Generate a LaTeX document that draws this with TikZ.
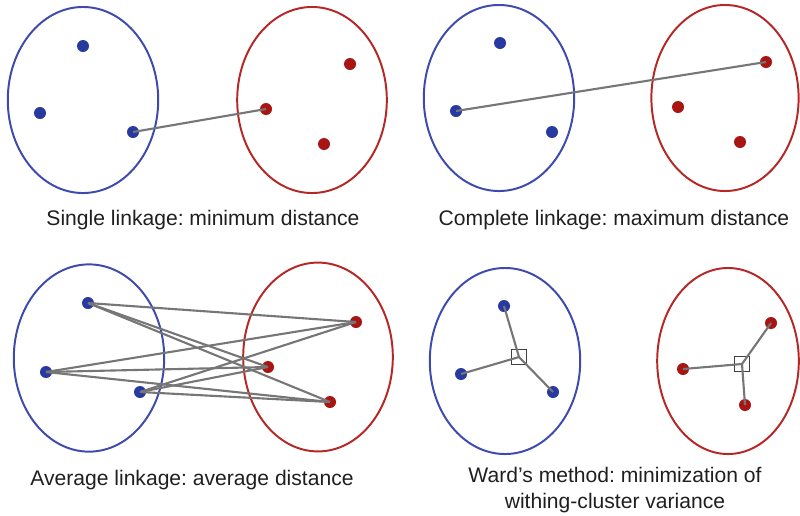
\documentclass[tikz,border=0pt]{standalone}
\usepackage{fontspec}
\setmainfont{Liberation Sans}
\usetikzlibrary{shapes.geometric}
\definecolor{clblue}{RGB}{62,74,172}
\definecolor{clred}{RGB}{180,40,38}
\definecolor{dotblue}{RGB}{40,58,160}
\definecolor{dotred}{RGB}{168,22,20}
\definecolor{linkgray}{RGB}{118,118,118}
\frenchspacing
\begin{document}
\begin{tikzpicture}[x=0.025cm, y=-0.025cm,
bluecl/.style={draw=clblue, ellipse, line width=1.4pt, inner sep=0pt, minimum width=3.76cm, minimum height=4.65cm},
redcl/.style={draw=clred, ellipse, line width=1.4pt, inner sep=0pt, minimum width=3.74cm, minimum height=4.65cm},
bdot/.style={circle, fill=dotblue, inner sep=0pt, minimum size=0.3cm},
rdot/.style={circle, fill=dotred, inner sep=0pt, minimum size=0.3cm},
link/.style={draw=linkgray, line width=1.5pt},
cent/.style={draw=black!75, fill=none, rectangle, line width=0.8pt, inner sep=0pt, minimum size=0.36cm},
caption/.style={font=\fontsize{15}{18}\selectfont, text=black!88, align=center}
]
\useasboundingbox (0,0) rectangle (800,515);
% single linkage
\node[bluecl] (sb) at (83,100) {};
\node[redcl] (sr) at (312,100) {};
\node[bdot] (sb1) at (83,46) {};
\node[bdot] (sb2) at (40,113) {};
\node[bdot] (sb3) at (133,132) {};
\node[rdot] (sr1) at (350,64) {};
\node[rdot] (sr2) at (266,109) {};
\node[rdot] (sr3) at (324,144) {};
\draw[link] (sb3.center) -- (sr2.center);
\node[caption] (scap) at (203,220) {Single linkage: minimum distance};
% complete linkage
\node[bluecl] (cb) at (499,98) {};
\node[redcl, minimum width=3.68cm] (cr) at (725,98) {};
\node[bdot] (cb1) at (500,43) {};
\node[bdot] (cb2) at (456,111) {};
\node[bdot] (cb3) at (552,132) {};
\node[rdot] (cr1) at (766,62) {};
\node[rdot] (cr2) at (678,107) {};
\node[rdot] (cr3) at (740,142) {};
\draw[link] (cb2.center) -- (cr1.center);
\node[caption] (ccap) at (614,220) {Complete linkage: maximum distance};
% average linkage
\node[bluecl, minimum height=4.68cm] (ab) at (89,358) {};
\node[redcl, minimum height=4.72cm] (ar) at (318,357) {};
\node[bdot] (ab1) at (88,303) {};
\node[bdot] (ab2) at (46,372) {};
\node[bdot] (ab3) at (140,392) {};
\node[rdot] (ar1) at (356,322) {};
\node[rdot] (ar2) at (268,367) {};
\node[rdot] (ar3) at (330,402) {};
\foreach \i in {1,2,3}
  \foreach \j in {1,2,3}
    \draw[link] (ab\i.center) -- (ar\j.center);
\node[caption] (acap) at (192,480) {Average linkage: average distance};
% ward
\node[bluecl] (wb) at (505,361) {};
\node[redcl, minimum width=3.54cm] (wr) at (728,361) {};
\node[bdot] (wb1) at (504,306) {};
\node[bdot] (wb2) at (461,374) {};
\node[bdot] (wb3) at (553,392) {};
\node[rdot] (wr1) at (771,323) {};
\node[rdot] (wr2) at (683,369) {};
\node[rdot] (wr3) at (745,405) {};
\node[cent] (wbc) at (519,357) {};
\node[cent] (wrc) at (742,364) {};
\foreach \i in {1,2,3} {
  \draw[link] (wb\i.center) -- (wbc.center);
  \draw[link] (wr\i.center) -- (wrc.center);
}
\node[caption] (wcap) at (615,490) {Ward’s method: minimization of\\withing-cluster variance};
\end{tikzpicture}
\end{document}
